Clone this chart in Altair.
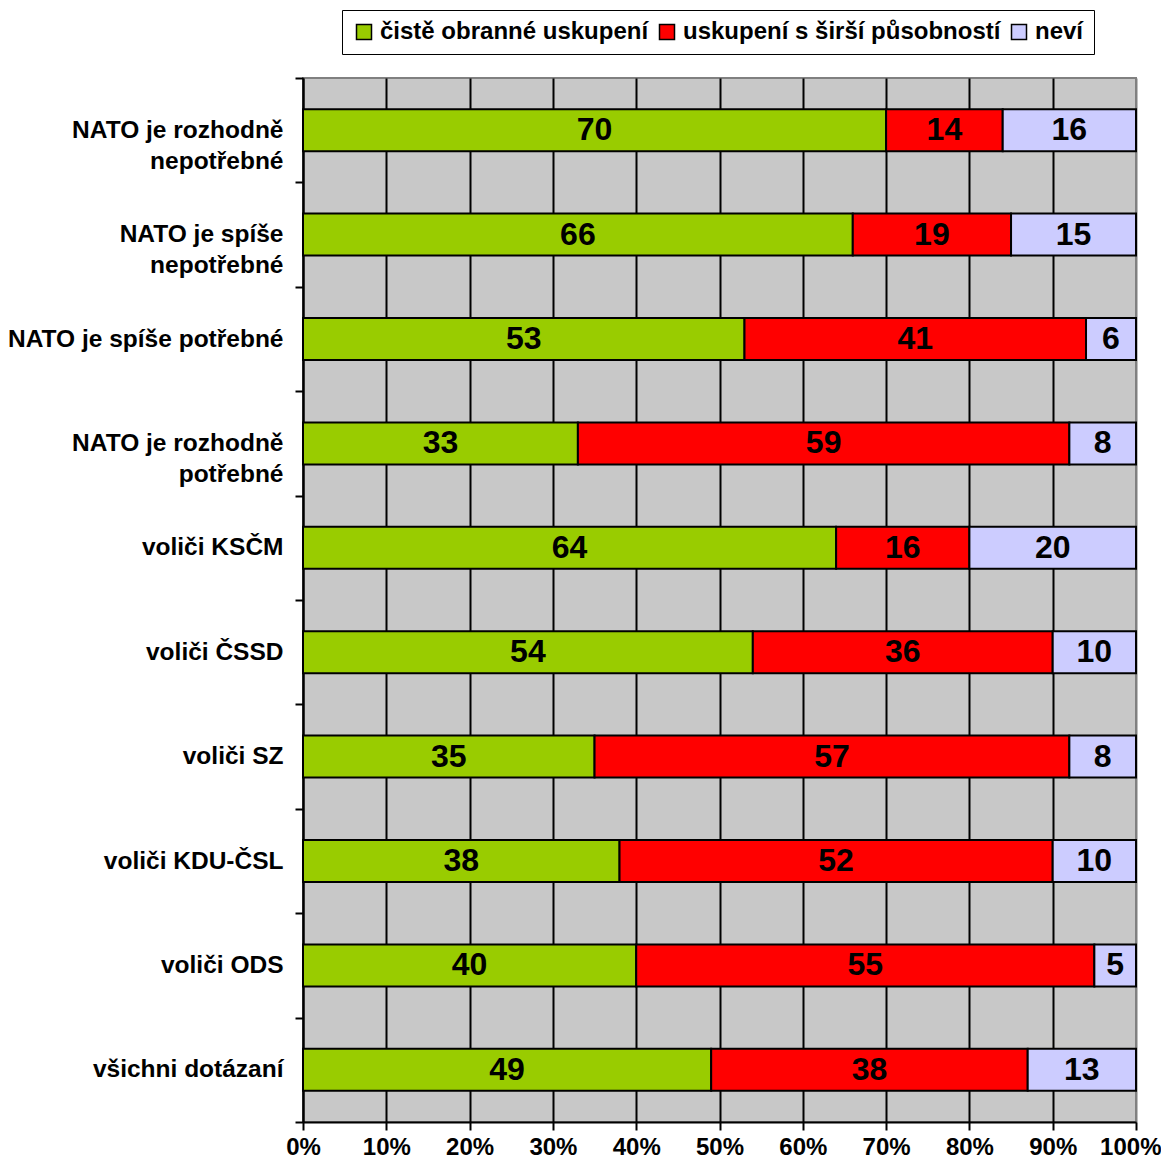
import altair as alt
import pandas as pd

categories = [
    "NATO je rozhodně|nepotřebné",
    "NATO je spíše|nepotřebné",
    "NATO je spíše potřebné",
    "NATO je rozhodně|potřebné",
    "voliči KSČM",
    "voliči ČSSD",
    "voliči SZ",
    "voliči KDU-ČSL",
    "voliči ODS",
    "všichni dotázaní",
]
series = ["čistě obranné uskupení", "uskupení s širší působností", "neví"]
green_vals = [70, 66, 53, 33, 64, 54, 35, 38, 40, 49]
red_vals = [14, 19, 41, 59, 16, 36, 57, 52, 55, 38]
blue_vals = [16, 15, 6, 8, 20, 10, 8, 10, 5, 13]
colors = ["#99CC00", "#FF0000", "#CCCCFF"]
x_ticks = [0, 10, 20, 30, 40, 50, 60, 70, 80, 90, 100]

rows = []
for i, c in enumerate(categories):
    for j, (s, vals) in enumerate(zip(series, [green_vals, red_vals, blue_vals])):
        rows.append({"cat": c, "series": s, "order": j, "value": vals[i]})
df = pd.DataFrame(rows)

FONT = "Liberation Sans"

base = alt.Chart(df).transform_stack(
    stack="value", groupby=["cat"], as_=["x0", "x1"], sort=[alt.SortField("order")]
).transform_calculate(mid="(datum.x0 + datum.x1) / 2")

y_enc = alt.Y(
    "cat:N",
    sort=categories,
    scale=alt.Scale(paddingInner=0, paddingOuter=0),
    axis=alt.Axis(
        title=None,
        labelExpr="split(datum.label, '|')",
        tickBand="extent",
        domainColor="black",
        domainWidth=2,
        tickColor="black",
        tickWidth=2,
        tickSize=8,
        labelFont=FONT,
        labelFontSize=24.5,
        labelFontWeight="bold",
        labelColor="black",
        labelLineHeight=31,
        labelPadding=12,
        labelLimit=400,
        grid=False,
    ),
)

x_axis = alt.Axis(
    title=None,
    values=x_ticks,
    labelExpr="datum.value + '%'",
    grid=True,
    gridColor={"condition": {"test": "datum.value === 100", "value": "#808080"}, "value": "black"},
    gridWidth=2,
    domainColor="black",
    domainWidth=2,
    tickColor="black",
    tickWidth=2,
    tickSize=8,
    labelFont=FONT,
    labelFontSize=24,
    labelFontWeight="bold",
    labelColor="black",
    labelPadding=5,
    labelFlush=False,
    labelAlign={"condition": {"test": "datum.value === 100", "value": "right"}, "value": "center"},
    labelOffset={"condition": {"test": "datum.value === 100", "value": 25}, "value": 0},
)

bars = base.mark_bar(stroke="black", strokeWidth=2, size=42).encode(
    x=alt.X("x0:Q", scale=alt.Scale(domain=[0, 100], nice=False), axis=x_axis),
    x2="x1:Q",
    y=y_enc,
    color=alt.Color(
        "series:N",
        scale=alt.Scale(domain=series, range=colors),
        sort=series,
        legend=alt.Legend(
            title=None,
            orient="none",
            direction="horizontal",
            legendX=39,
            legendY=-68,
            strokeColor="black",
            padding=10,
            symbolType="square",
            symbolSize=225,
            symbolStrokeColor="black",
            symbolStrokeWidth=1.5,
            symbolOpacity=1,
            labelFont=FONT,
            labelFontSize=24,
            labelFontWeight="bold",
            labelColor="black",
            labelOffset=4,
            labelLimit=500,
            columnPadding=6,
        ),
    ),
)

texts = base.mark_text(font=FONT, fontSize=32, fontWeight="bold", color="black").encode(
    x=alt.X("mid:Q"),
    y=alt.Y("cat:N", sort=categories),
    text="value:Q",
)

chart = (
    alt.layer(bars, texts)
    .properties(
        width=833,
        height=1044,
        background="white",
        autosize=alt.AutoSizeParams(type="none"),
        padding={"left": 295, "top": 70, "right": 25, "bottom": 39},
    )
    .configure_view(fill="#C8C8C8", stroke="#808080", strokeWidth=2)
)

chart.save("out.html", embed_options={"renderer": "svg", "actions": False})
